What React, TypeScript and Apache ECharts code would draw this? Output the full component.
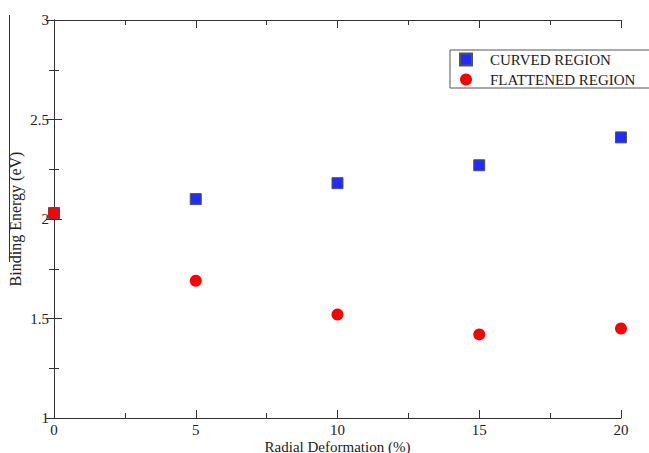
import React, { useEffect, useRef } from "react";
import * as echarts from "echarts";

const xValues = [0, 5, 10, 15, 20];
const curvedValues = [2.03, 2.1, 2.18, 2.27, 2.41];
const flattenedValues = [2.03, 1.69, 1.52, 1.42, 1.45];
const seriesNames = ["CURVED REGION", "FLATTENED REGION"];
const xTitle = "Radial Deformation (%)";
const yTitle = "Binding Energy (eV)";

const FONT = "Liberation Serif";

export default function App() {
  const ref = useRef<HTMLDivElement>(null);
  useEffect(() => {
    if (!ref.current) return;
    const chart = echarts.init(ref.current, null, { renderer: "svg" });
    const axisLine = { show: true, lineStyle: { color: "#333", width: 1 } };
    const tickStyle = { inside: true, length: 8, lineStyle: { color: "#333", width: 1 } };
    const minorStyle = { show: true, splitNumber: 2, length: 5, lineStyle: { color: "#333", width: 1 } };
    chart.setOption({
      animation: false,
      backgroundColor: "#fff",
      grid: { left: 54, right: 28, top: 20, bottom: 35, containLabel: false, outerBoundsMode: "none" },
      xAxis: [
        {
          type: "value",
          min: 0,
          max: 20,
          interval: 5,
          position: "bottom",
          axisLine,
          axisTick: tickStyle,
          minorTick: minorStyle,
          splitLine: { show: false },
          axisLabel: { fontFamily: FONT, fontSize: 15, color: "#222", margin: 4, lineHeight: 16 },
          name: xTitle,
          nameLocation: "middle",
          nameGap: 21,
          nameMoveOverlap: false,
          nameTextStyle: { fontFamily: FONT, fontSize: 15, color: "#222", verticalAlign: "top", lineHeight: 15 },
        },
        {
          type: "value",
          min: 0,
          max: 20,
          interval: 5,
          position: "top",
          axisLine,
          axisTick: tickStyle,
          minorTick: minorStyle,
          splitLine: { show: false },
          axisLabel: { show: false },
        },
      ],
      yAxis: [
        {
          type: "value",
          min: 1,
          max: 3,
          interval: 0.5,
          position: "left",
          axisLine,
          axisTick: tickStyle,
          minorTick: minorStyle,
          splitLine: { show: false },
          axisLabel: { fontFamily: FONT, fontSize: 15, color: "#222", margin: 5 },
          name: yTitle,
          nameLocation: "middle",
          nameGap: 31,
          nameMoveOverlap: false,
          nameRotate: 90,
          nameTextStyle: { fontFamily: FONT, fontSize: 16, color: "#222" },
        },
        {
          type: "value",
          min: 1,
          max: 3,
          interval: 0.5,
          position: "right",
          axisLine,
          axisTick: tickStyle,
          minorTick: minorStyle,
          splitLine: { show: false },
          axisLabel: { show: false },
        },
      ],
      legend: {
        orient: "vertical",
        left: 459,
        top: 52,
        itemWidth: 12,
        itemHeight: 12,
        itemGap: 5,
        padding: 0,
        z: 10,
        textStyle: { fontFamily: FONT, fontSize: 15, color: "#222", padding: [0, 0, 0, 13] },
        data: seriesNames,
      },
      graphic: [
        {
          type: "rect",
          z: 9,
          shape: { x: 450, y: 50, width: 230, height: 38 },
          style: { fill: "#fff", stroke: "#555", lineWidth: 1 },
        },
        {
          type: "line",
          z: 9,
          shape: { x1: 9.5, y1: 15, x2: 9.5, y2: 262 },
          style: { stroke: "#333", lineWidth: 1 },
        },
      ],
      series: [
        {
          name: seriesNames[0],
          type: "scatter",
          symbol: "rect",
          symbolSize: 11,
          itemStyle: { color: "#1f2cff", borderColor: "#555", borderWidth: 1, opacity: 1 },
          data: xValues.map((x, i) => [x, curvedValues[i]]),
          z: 2,
        },
        {
          name: seriesNames[1],
          type: "scatter",
          symbol: "circle",
          symbolSize: 12,
          itemStyle: { color: "#ff0000", opacity: 1 },
          data: xValues.map((x, i) => [x, flattenedValues[i]]),
          z: 3,
        },
      ],
    });
    return () => chart.dispose();
  }, []);
  return <div ref={ref} style={{ position: "fixed", left: 0, top: 0, width: 649, height: 453 }} />;
}
